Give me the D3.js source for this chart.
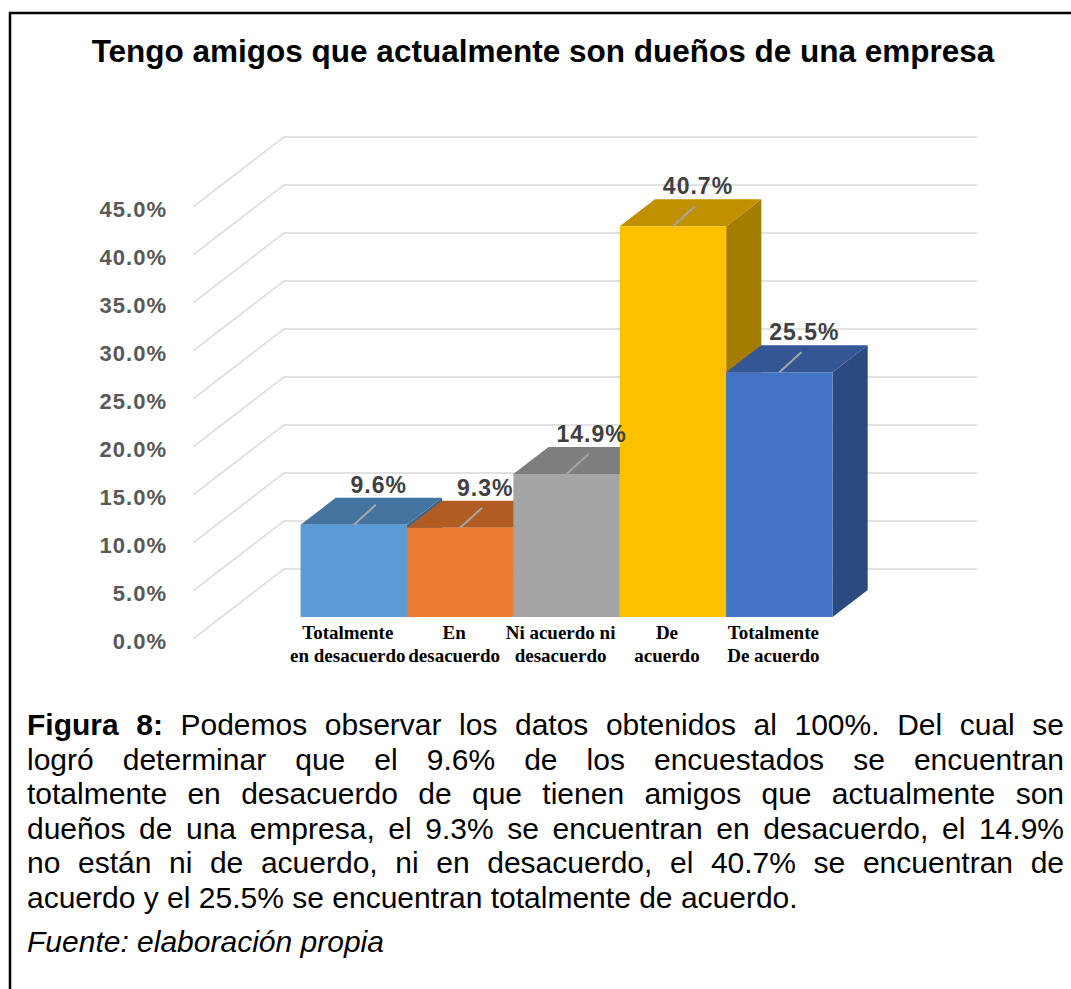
<!DOCTYPE html>
<html>
<head>
<meta charset="utf-8">
<script src="https://cdn.jsdelivr.net/npm/d3@7"></script>
<style>
  body { margin: 0; background: #fff; }
  svg { display: block; }
</style>
</head>
<body>
<div id="container"></div>
<script>
var width = 1071, height = 989;

// donnees
var title = "Tengo amigos que actualmente son dueños de una empresa";
var categories = [
    ["Totalmente", "en desacuerdo"],
    ["En", "desacuerdo"],
    ["Ni acuerdo ni", "desacuerdo"],
    ["De", "acuerdo"],
    ["Totalmente", "De acuerdo"]
];
var values = [9.6, 9.3, 14.9, 40.7, 25.5];
var tickValues = [0, 5, 10, 15, 20, 25, 30, 35, 40, 45];
var captionLines = [
    "Figura 8: Podemos observar los datos obtenidos al 100%. Del cual se",
    "logró determinar que el 9.6% de los encuestados se encuentran",
    "totalmente en desacuerdo de que tienen amigos que actualmente son",
    "dueños de una empresa, el 9.3% se encuentran en desacuerdo, el 14.9%",
    "no están ni de acuerdo, ni en desacuerdo, el 40.7% se encuentran de",
    "acuerdo y el 25.5% se encuentran totalmente de acuerdo."
];
var source = "Fuente: elaboración propia";

// couleurs des faces (avant / dessus / cote)
var frontColors = ["#5b9bd5", "#ed7d31", "#a5a5a5", "#ffc000", "#4472c4"];
var topColors = ["#43739e", "#b05c22", "#7e7e7e", "#c09000", "#335694"];
var sideColors = ["#3a6690", "#a0521e", "#707070", "#a37c00", "#2b4a80"];

var svg = d3.select("#container")
    .append("svg")
    .attr("width", width)
    .attr("height", height);

// cadre
svg.append("rect")
    .attr("x", 10).attr("y", 13)
    .attr("width", 1080).attr("height", 1000)
    .attr("fill", "none")
    .attr("stroke", "#000")
    .attr("stroke-width", 2.5);

// titre
svg.append("text")
    .attr("x", 543).attr("y", 62)
    .attr("text-anchor", "middle")
    .style("font-family", "'Liberation Sans', Arial, sans-serif")
    .style("font-weight", "bold")
    .style("font-size", "31.5px")
    .text(title);

// projection oblique : t = 0 au mur du fond, t = 1 au bord avant
var depthX = -91, depthY = 70;
var wallLeft = 284, wallRight = 977;
var tFront = 0.686, tBack = 0.3;

var y = d3.scaleLinear().domain([0, 45]).range([569, 137]);
var x = d3.scaleBand()
    .domain(categories.map(function(c) { return c.join(" "); }))
    .range([363, 895])
    .padding(0);

function P(xb, v, t) {
    return [xb + depthX * t, y(v) + depthY * t];
}

var line = d3.line();

// grille (cote gauche + mur du fond)
svg.append("g").selectAll("path")
    .data(tickValues)
    .join("path")
    .attr("d", function(v) {
        return line([P(wallLeft, v, 1), P(wallLeft, v, 0), [wallRight, y(v)]]);
    })
    .attr("fill", "none")
    .attr("stroke", "#d9d9d9")
    .attr("stroke-width", 1.5);

svg.append("g").selectAll("text")
    .data(tickValues)
    .join("text")
    .attr("x", 167)
    .attr("y", function(v) { return P(wallLeft, v, 1)[1] + 9.5; })
    .attr("text-anchor", "end")
    .style("font-family", "'Liberation Sans', Arial, sans-serif")
    .style("font-weight", "bold")
    .style("font-size", "22px")
    .style("letter-spacing", "1px")
    .style("fill", "#595959")
    .text(function(v) { return v.toFixed(1) + "%"; });

// barres 3D, de gauche a droite
var bw = x.bandwidth();
var bars = svg.append("g").selectAll("g")
    .data(values)
    .join("g");

bars.append("path")
    .attr("d", function(v, i) {
        var x1 = x(x.domain()[i]) + bw;
        return line([P(x1, 0, tFront), P(x1, 0, tBack), P(x1, v, tBack), P(x1, v, tFront)]) + "Z";
    })
    .attr("fill", function(v, i) { return sideColors[i]; });

bars.append("path")
    .attr("d", function(v, i) {
        var x0 = x(x.domain()[i]), x1 = x0 + bw;
        return line([P(x0, v, tFront), P(x1, v, tFront), P(x1, v, tBack), P(x0, v, tBack)]) + "Z";
    })
    .attr("fill", function(v, i) { return topColors[i]; });

bars.append("path")
    .attr("d", function(v, i) {
        var x0 = x(x.domain()[i]), x1 = x0 + bw;
        return line([P(x0, 0, tFront), P(x1, 0, tFront), P(x1, v, tFront), P(x0, v, tFront)]) + "Z";
    })
    .attr("fill", function(v, i) { return frontColors[i]; });

// etiquettes des valeurs avec traits de rappel
var labels = svg.append("g").selectAll("g")
    .data(values)
    .join("g")
    .attr("transform", function(v, i) {
        var p = P(x(x.domain()[i]) + bw / 2, v, tFront);
        return "translate(" + p[0] + "," + p[1] + ")";
    });

labels.append("line")
    .attr("x1", 0).attr("y1", 0)
    .attr("x2", 22).attr("y2", -20)
    .attr("stroke", "#a6a6a6")
    .attr("stroke-width", 2);

labels.append("text")
    .attr("x", 25).attr("y", -32)
    .attr("text-anchor", "middle")
    .style("font-family", "'Liberation Sans', Arial, sans-serif")
    .style("font-weight", "bold")
    .style("font-size", "23px")
    .style("letter-spacing", "1px")
    .style("fill", "#404040")
    .text(function(v) { return v.toFixed(1) + "%"; });

// categories
var cat = svg.append("g").selectAll("text")
    .data(categories)
    .join("text")
    .attr("text-anchor", "middle")
    .style("font-family", "'Liberation Serif', 'Times New Roman', serif")
    .style("font-weight", "bold")
    .style("font-size", "19px")
    .style("fill", "#000");

cat.selectAll("tspan")
    .data(function(c, i) {
        var cx = P(x(x.domain()[i]) + bw / 2, 0, tFront)[0] - 6;
        return c.map(function(s, k) { return { s: s, k: k, cx: cx }; });
    })
    .join("tspan")
    .attr("x", function(d) { return d.cx; })
    .attr("y", function(d) { return P(wallLeft, 0, 1)[1] + d.k * 23; })
    .text(function(d) { return d.s; });

// legende de la figure, justifiee
var capLeft = 27, capRight = 1064, capTop = 735, capStep = 34.6;
var caption = svg.append("g")
    .style("font-family", "'Liberation Sans', Arial, sans-serif")
    .style("font-size", "30px")
    .style("fill", "#000");

captionLines.forEach(function(txt, li) {
    var words = txt.split(" ");
    var t = caption.append("text").attr("y", capTop + li * capStep);
    var spans = words.map(function(w, wi) {
        return t.append("tspan")
            .style("font-weight", (li === 0 && wi < 2) ? "bold" : "normal")
            .text(w);
    });
    var widths = spans.map(function(s) { return s.node().getComputedTextLength(); });
    var total = d3.sum(widths);
    var space = t.append("tspan").text("\u00a0");
    var spaceW = space.node().getComputedTextLength();
    space.remove();
    var last = li === captionLines.length - 1;
    var gap = last ? spaceW : (capRight - capLeft - total) / (words.length - 1);
    var cx = capLeft;
    spans.forEach(function(s, wi) {
        s.attr("x", cx);
        cx += widths[wi] + gap;
    });
});

svg.append("text")
    .attr("x", capLeft)
    .attr("y", 952)
    .style("font-family", "'Liberation Sans', Arial, sans-serif")
    .style("font-size", "30px")
    .style("font-style", "italic")
    .text(source);
</script>
</body>
</html>
